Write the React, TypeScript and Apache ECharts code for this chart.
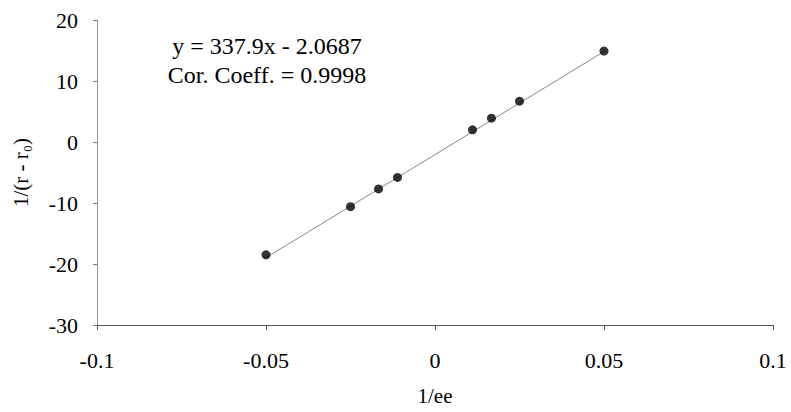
import React, { useEffect, useRef } from "react";
import * as echarts from "echarts";

const pointX = [-0.05, -0.025, -0.0167, -0.0111, 0.0111, 0.0167, 0.025, 0.05];
const pointY = [-18.5, -10.6, -7.7, -5.8, 2.0, 3.9, 6.7, 14.9];
const slope = 337.9;
const intercept = -2.0687;
const trendX = [-0.05, 0.05];
const xTicks = [-0.1, -0.05, 0, 0.05, 0.1];
const yTicks = [-30, -20, -10, 0, 10, 20];
const equationText = "y = 337.9x - 2.0687";
const corrText = "Cor. Coeff. = 0.9998";

const FONT = "'Liberation Serif', 'DejaVu Serif', serif";

export default function App() {
  const ref = useRef<HTMLDivElement>(null);
  useEffect(() => {
    if (!ref.current) return;
    const chart = echarts.init(ref.current, null, { renderer: "svg" });
    const option = {
      animation: false,
      backgroundColor: "#ffffff",
      grid: { left: 97, right: 18, top: 20, bottom: 87, containLabel: false },
      xAxis: {
        type: "value",
        min: xTicks[0],
        max: xTicks[xTicks.length - 1],
        interval: 0.05,
        name: "1/ee",
        nameLocation: "middle",
        nameGap: 60,
        nameTextStyle: { fontFamily: FONT, fontSize: 21, color: "#000" },
        axisLine: { show: true, onZero: false, lineStyle: { color: "#555", width: 1 } },
        axisTick: { show: true, length: 5, lineStyle: { color: "#555" } },
        axisLabel: {
          margin: 24,
          fontFamily: FONT,
          fontSize: 22,
          color: "#000",
          formatter: (v: number) => String(Math.round(v * 1000) / 1000),
        },
        splitLine: { show: false },
      },
      yAxis: {
        type: "value",
        min: yTicks[0],
        max: yTicks[yTicks.length - 1],
        interval: 10,
        name: "1/(r - r\u2080)",
        nameLocation: "middle",
        nameGap: 66,
        nameRotate: 90,
        nameTextStyle: { fontFamily: FONT, fontSize: 21, color: "#000" },
        axisLine: { show: true, onZero: false, lineStyle: { color: "#999", width: 1 } },
        axisTick: { show: true, length: 4, lineStyle: { color: "#777" } },
        axisLabel: { margin: 19, fontFamily: FONT, fontSize: 22, color: "#000" },
        splitLine: { show: false },
      },
      series: [
        {
          type: "line",
          data: trendX.map((x) => [x, slope * x + intercept]),
          symbol: "none",
          lineStyle: { color: "#888", width: 1 },
          z: 1,
        },
        {
          type: "scatter",
          data: pointX.map((x, i) => [x, pointY[i]]),
          symbol: "circle",
          symbolSize: 9,
          itemStyle: { color: "#000" },
          z: 2,
        },
      ],
      graphic: [
        {
          type: "text",
          style: {
            text: equationText,
            x: 267,
            y: 46,
            textAlign: "center",
            textVerticalAlign: "middle",
            fontFamily: FONT,
            fontSize: 24,
            fill: "#000",
          },
        },
        {
          type: "text",
          style: {
            text: corrText,
            x: 267,
            y: 75,
            textAlign: "center",
            textVerticalAlign: "middle",
            fontFamily: FONT,
            fontSize: 24,
            fill: "#000",
          },
        },
      ],
    };
    chart.setOption(option);
    return () => chart.dispose();
  }, []);
  return (
    <div
      ref={ref}
      style={{ position: "absolute", left: 0, top: 0, width: 791, height: 412 }}
    />
  );
}
